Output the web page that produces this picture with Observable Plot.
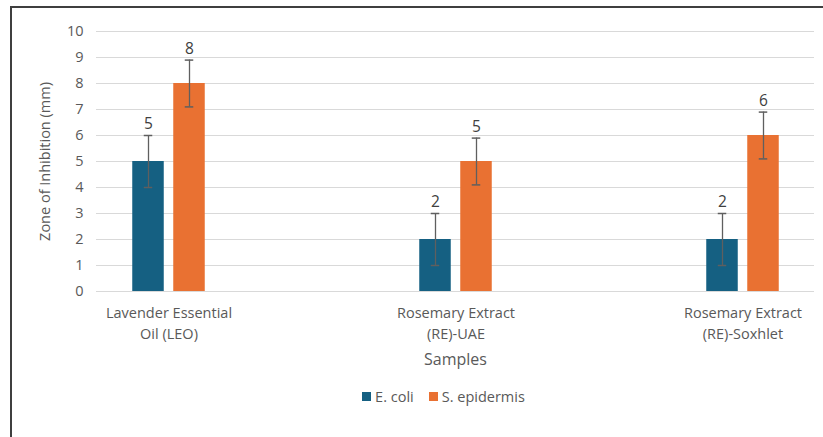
<!DOCTYPE html>
<html>
<head>
<meta charset="utf-8">
<script src="https://cdn.jsdelivr.net/npm/d3@7"></script>
<script src="https://cdn.jsdelivr.net/npm/@observablehq/plot@0.6"></script>
<style>
  html, body { margin: 0; padding: 0; background: #fff; }
  body { width: 823px; height: 437px; position: relative; overflow: hidden; font-family: "Open Sans", sans-serif; }
  #frame { position: absolute; left: 10px; top: 6px; width: 830px; height: 450px; border-top: 2px solid #3f3f3f; border-left: 2px solid #3f3f3f; box-sizing: border-box; pointer-events: none; }
  #chart { position: absolute; left: 0; top: 0; }
  #legend { position: absolute; top: 387px; left: 0; width: 823px; display: flex; justify-content: center; gap: 15px; font-size: 14.5px; color: #595959; padding-left: 64px; box-sizing: border-box; }
  #legend span.item { display: flex; align-items: center; gap: 4px; }
  #legend span.sw { width: 9px; height: 9px; display: inline-block; }
</style>
</head>
<body>
<div id="chart"></div>
<div id="legend"></div>
<div id="frame"></div>
<script>
const samples = ["Lavender Essential\nOil (LEO)", "Rosemary Extract\n(RE)-UAE", "Rosemary Extract\n(RE)-Soxhlet"];
const seriesNames = ["E. coli", "S. epidermis"];
const ecoli = [5, 2, 2];
const sepidermis = [8, 5, 6];
const ecoliErr = [1, 1, 1];
const sepidermisErr = [0.9, 0.9, 0.9];
const colors = ["#156082", "#E97132"];
const yTicks = [0, 1, 2, 3, 4, 5, 6, 7, 8, 9, 10];
const xTitle = "Samples";
const yTitle = "Zone of Inhibition (mm)";

const values = [ecoli, sepidermis];
const errs = [ecoliErr, sepidermisErr];
const rows = [];
seriesNames.forEach((s, si) => samples.forEach((c, ci) => rows.push({
  sample: c, series: s, si, value: values[si][ci], lo: values[si][ci] - errs[si][ci], hi: values[si][ci] + errs[si][ci]
})));

const step = 287.5, barW = 32, offset = 20.5, capW = 9;
const barInset = (step - barW) / 2, capInset = (step - capW) / 2;
const marks = [
  Plot.ruleY(yTicks, {stroke: "#d9d9d9", strokeWidth: 1.2})
];
seriesNames.forEach((s, si) => {
  const data = rows.filter(r => r.si === si);
  const dx = (si - 0.5) * 2 * offset;
  marks.push(
    Plot.barY(data, {x: "sample", y: "value", fill: colors[si], dx, insetLeft: barInset, insetRight: barInset}),
    Plot.ruleX(data, {x: "sample", y1: "lo", y2: "hi", dx, stroke: "#5f5f5f", strokeWidth: 1.3}),
    Plot.tickY(data, {x: "sample", y: "lo", dx, stroke: "#5f5f5f", strokeWidth: 1.5, insetLeft: capInset, insetRight: capInset}),
    Plot.tickY(data, {x: "sample", y: "hi", dx, stroke: "#5f5f5f", strokeWidth: 1.5, insetLeft: capInset, insetRight: capInset}),
    Plot.text(data, {x: "sample", y: "hi", dx, dy: -11, text: d => String(d.value), fill: "#404040", fontSize: 15.5})
  );
});
marks.push(
  Plot.axisY({ticks: yTicks, tickSize: 0, tickPadding: 13, fontSize: 14.5, color: "#595959",
    label: yTitle, labelAnchor: "center", labelOffset: 57, labelArrow: "none"}),
  Plot.axisX({tickSize: 0, tickPadding: 12, fontSize: 14.5, lineHeight: 1.45, color: "#595959", label: null}),
  Plot.text([xTitle], {frameAnchor: "bottom", dy: 73, fontSize: 16, fill: "#595959"})
);

const plot = Plot.plot({
  width: 823,
  height: 370,
  marginTop: 31,
  marginBottom: 79,
  marginLeft: 96,
  marginRight: 9,
  style: {fontFamily: "'Open Sans', sans-serif", background: "transparent"},
  x: {domain: samples, range: [24.25, 886.75], padding: 0},
  y: {domain: [0, 10], range: [291, 31]},
  marks
});
document.getElementById("chart").appendChild(plot);

const legend = document.getElementById("legend");
seriesNames.forEach((s, i) => {
  const item = document.createElement("span");
  item.className = "item";
  item.innerHTML = `<span class="sw" style="background:${colors[i]}"></span><span>${s}</span>`;
  legend.appendChild(item);
});
</script>
</body>
</html>
